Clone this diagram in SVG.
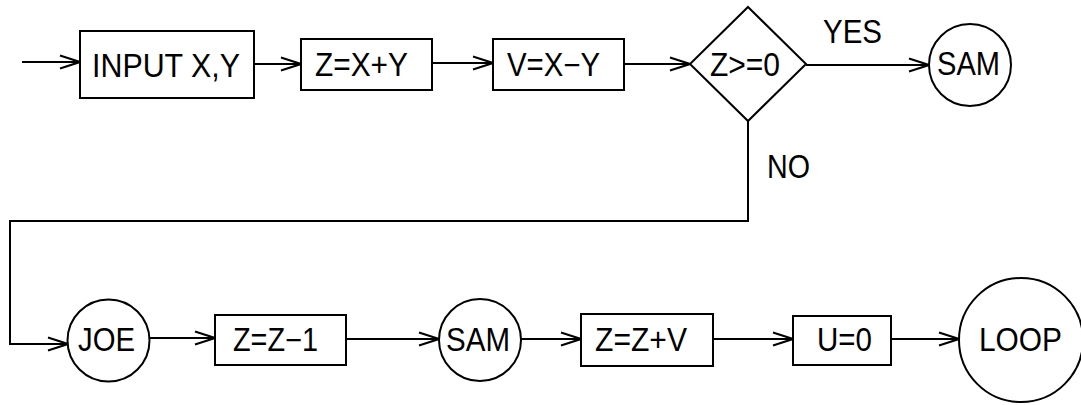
<svg xmlns="http://www.w3.org/2000/svg" width="1081" height="405" viewBox="0 0 1081 405">
<style>
.n{fill:#fff;stroke:#000;stroke-width:2}
.t{font-family:"Liberation Sans",Arial,sans-serif;font-size:32.5px;fill:#000}
.c{fill:none;stroke:#000;stroke-width:2}
</style>
<defs>
<marker id="ah" markerUnits="userSpaceOnUse" viewBox="-22 -9 24 18" refX="0" refY="0" markerWidth="24" markerHeight="18" orient="auto">
<path d="M-20,-6.5 L0,0 L-20,6.5" fill="none" stroke="#000" stroke-width="2"/>
</marker>
</defs>
<rect width="1081" height="405" fill="#fff"/>
<g id="connectors">
<line class="c" x1="22" y1="62" x2="80" y2="62" marker-end="url(#ah)"/>
<line class="c" x1="254" y1="64" x2="301" y2="64" marker-end="url(#ah)"/>
<line class="c" x1="432" y1="63" x2="493" y2="63" marker-end="url(#ah)"/>
<line class="c" x1="624" y1="64" x2="690" y2="64" marker-end="url(#ah)"/>
<line class="c" x1="806" y1="65" x2="929" y2="65" marker-end="url(#ah)"/>
<polyline class="c" points="748,121 748,221 10,221 10,344 68,344" marker-end="url(#ah)"/>
<line class="c" x1="149" y1="338" x2="215" y2="338" marker-end="url(#ah)"/>
<line class="c" x1="346" y1="339" x2="439" y2="339" marker-end="url(#ah)"/>
<line class="c" x1="521" y1="339" x2="581" y2="339" marker-end="url(#ah)"/>
<line class="c" x1="713" y1="339" x2="793" y2="339" marker-end="url(#ah)"/>
<line class="c" x1="891" y1="339" x2="959" y2="339" marker-end="url(#ah)"/>
<text class="t" x="823" y="43" textLength="59" lengthAdjust="spacingAndGlyphs">YES</text>
<text class="t" x="767" y="178" textLength="43" lengthAdjust="spacingAndGlyphs">NO</text>
</g>
<g id="input"><rect class="n" x="80" y="31" width="174" height="67"/><text class="t" x="92" y="76.5" textLength="148" lengthAdjust="spacingAndGlyphs">INPUT X,Y</text></g>
<g id="zxy"><rect class="n" x="301" y="39" width="131" height="51"/><text class="t" x="315" y="75.5" textLength="93" lengthAdjust="spacingAndGlyphs">Z=X+Y</text></g>
<g id="vxy"><rect class="n" x="493" y="39" width="131" height="51"/><text class="t" x="507" y="75.5" textLength="93" lengthAdjust="spacingAndGlyphs">V=X−Y</text></g>
<g id="decision"><polygon class="n" points="748,7 806,64 748,121 690,64"/><text class="t" x="710" y="75.5" textLength="70" lengthAdjust="spacingAndGlyphs">Z&gt;=0</text></g>
<g id="sam1"><circle class="n" cx="970" cy="65" r="41"/><text class="t" x="937" y="75" textLength="63" lengthAdjust="spacingAndGlyphs">SAM</text></g>
<g id="joe"><circle class="n" cx="108.5" cy="340.5" r="41"/><text class="t" x="78" y="351" textLength="57" lengthAdjust="spacingAndGlyphs">JOE</text></g>
<g id="zz1"><rect class="n" x="215" y="315" width="131" height="50"/><text class="t" x="233" y="351" textLength="85" lengthAdjust="spacingAndGlyphs">Z=Z−1</text></g>
<g id="sam2"><circle class="n" cx="480" cy="340" r="41"/><text class="t" x="446" y="350.5" textLength="64" lengthAdjust="spacingAndGlyphs">SAM</text></g>
<g id="zzv"><rect class="n" x="581" y="314" width="132" height="52"/><text class="t" x="595" y="350.5" textLength="92" lengthAdjust="spacingAndGlyphs">Z=Z+V</text></g>
<g id="u0"><rect class="n" x="793" y="316" width="98" height="49"/><text class="t" x="817" y="350.5" textLength="55" lengthAdjust="spacingAndGlyphs">U=0</text></g>
<g id="loop"><circle class="n" cx="1021" cy="340" r="62"/><text class="t" x="979" y="350.5" textLength="83" lengthAdjust="spacingAndGlyphs">LOOP</text></g>
</svg>
